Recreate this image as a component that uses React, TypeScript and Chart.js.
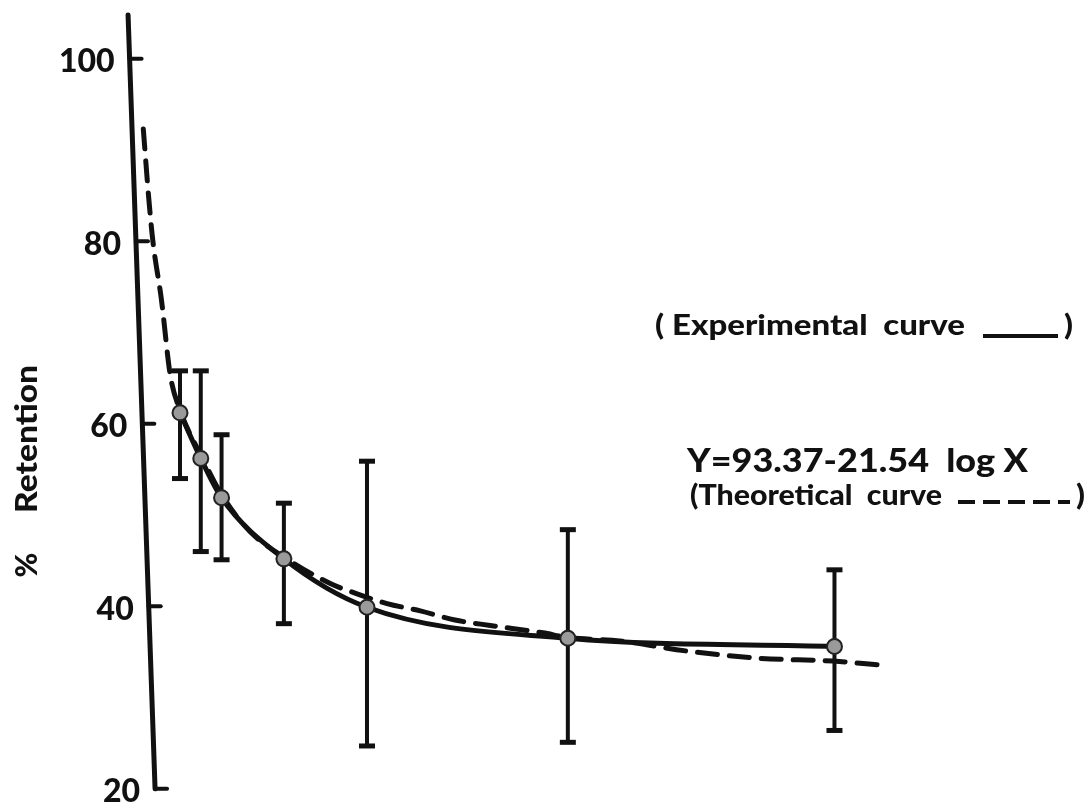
import React, { useEffect, useRef } from "react";
import { Chart, registerables } from "chart.js";

Chart.register(...registerables);

// ---- data ----
const timeMin = [30, 60, 90, 180, 300, 590, 975];
const retention = [61.2, 56.2, 51.9, 45.2, 39.9, 36.5, 35.6];
const errLow = [54.0, 46.0, 45.1, 38.1, 24.7, 25.1, 26.4];
const errHigh = [65.8, 65.8, 58.8, 51.3, 55.9, 48.4, 44.0];

const theoX = [-23, -15, -9, 3, 16, 30, 62, 92, 131, 182, 247, 277, 329, 377, 427, 478, 554, 589, 665, 762, 868, 973, 1051];
const theoY = [92.3, 84.6, 79.9, 73.7, 65.3, 61.5, 56.3, 52.0, 48.2, 45.3, 42.5, 41.6, 40.3, 39.5, 38.5, 37.9, 37.1, 36.6, 36.2, 35.1, 34.3, 34.0, 33.5];

const yTicks = [100, 80, 60, 40, 20];
const yTitleMain = "Retention";
const yTitlePct = "%";
const legendExp = "( Experimental  curve";
const equation = "Y=93.37-21.54  log X";
const legendTheo = "(Theoretical  curve";

const INK = "#111111";
const FONT = "Lato";
const WEIGHT = "900";

// axis line drawn slanted like the scanned original
const axisTopVal = 104.8;
const axisBottomVal = 20;
const axisTopX = -45;
const axisBottomX = -6;

function fitText(ctx: CanvasRenderingContext2D, text: string, x: number, y: number, width: number, size: number) {
  ctx.save();
  ctx.font = `${WEIGHT} ${size}px ${FONT}`;
  ctx.textAlign = "left";
  ctx.textBaseline = "alphabetic";
  const w = ctx.measureText(text).width;
  ctx.translate(x, y);
  ctx.scale(width / w, 1);
  ctx.fillText(text, 0, 0);
  ctx.restore();
}

const decorPlugin = {
  id: "decor",
  afterDatasetsDraw(chart: any) {
    const ctx: CanvasRenderingContext2D = chart.ctx;
    const xs = chart.scales.x;
    const ys = chart.scales.y;
    const yT = ys.getPixelForValue(axisTopVal);
    const yB = ys.getPixelForValue(axisBottomVal);
    const xT = xs.getPixelForValue(axisTopX);
    const xB = xs.getPixelForValue(axisBottomX);
    const axisXAt = (py: number) => xT + ((py - yT) / (yB - yT)) * (xB - xT);

    ctx.save();
    ctx.strokeStyle = INK;
    ctx.fillStyle = INK;
    ctx.lineCap = "round";
    ctx.lineWidth = 5;
    ctx.beginPath();
    ctx.moveTo(xT, yT);
    ctx.lineTo(xB, yB);
    ctx.stroke();

    ctx.lineWidth = 4;
    ctx.font = `${WEIGHT} 32px ${FONT}`;
    ctx.textAlign = "right";
    ctx.textBaseline = "middle";
    yTicks.forEach((v) => {
      const py = ys.getPixelForValue(v);
      const ax = axisXAt(py);
      ctx.beginPath();
      ctx.moveTo(ax, py);
      ctx.lineTo(ax + 12, py);
      ctx.stroke();
      ctx.fillText(String(v), ax - 15, py + 3);
    });

    // axis title (rotated)
    ctx.save();
    ctx.translate(27, 439);
    ctx.rotate(-Math.PI / 2);
    ctx.font = `${WEIGHT} 30px ${FONT}`;
    ctx.textBaseline = "middle";
    ctx.textAlign = "left";
    const tw = ctx.measureText(yTitleMain).width;
    ctx.save();
    ctx.scale(148 / tw, 1);
    ctx.fillText(yTitleMain, -tw / 2, 0);
    ctx.restore();
    ctx.textAlign = "center";
    ctx.fillText(yTitlePct, -126, 0);
    ctx.restore();

    // annotations
    fitText(ctx, legendExp, 655, 335, 310, 29);
    ctx.lineWidth = 4;
    ctx.lineCap = "butt";
    ctx.beginPath();
    ctx.moveTo(983, 336);
    ctx.lineTo(1058, 336);
    ctx.stroke();
    fitText(ctx, ")", 1064, 335, 9, 29);

    fitText(ctx, equation, 687, 472, 341, 32);

    fitText(ctx, legendTheo, 690, 505, 252, 29);
    ctx.setLineDash([17, 8]);
    ctx.beginPath();
    ctx.moveTo(958, 502);
    ctx.lineTo(1070, 502);
    ctx.stroke();
    ctx.setLineDash([]);
    fitText(ctx, ")", 1076, 505, 9, 29);
    ctx.restore();
  },
};

export default function App() {
  const ref = useRef<HTMLCanvasElement | null>(null);

  useEffect(() => {
    if (!ref.current) return;
    const errorBarSets = timeMin.map((t, i) => ({
      type: "line" as const,
      data: [
        { x: t, y: errLow[i] },
        { x: t, y: errHigh[i] },
      ],
      borderColor: INK,
      borderWidth: 4,
      pointStyle: "line" as const,
      pointRadius: 8,
      pointBorderWidth: 5,
      pointBorderColor: INK,
      pointBackgroundColor: INK,
      order: 3,
      clip: false as const,
    }));

    const chart = new Chart(ref.current, {
      type: "line",
      data: {
        datasets: [
          {
            label: "Theoretical curve",
            data: theoX.map((x, i) => ({ x, y: theoY[i] })),
            borderColor: INK,
            borderWidth: 5,
            borderDash: [20, 12],
            borderCapStyle: "round",
            pointRadius: 0,
            tension: 0.4,
            cubicInterpolationMode: "monotone",
            order: 2,
            clip: false,
          },
          {
            label: "Experimental curve",
            data: timeMin.map((x, i) => ({ x, y: retention[i] })),
            borderColor: INK,
            borderWidth: 5,
            pointRadius: 7.5,
            pointBackgroundColor: "#9a9a9a",
            pointBorderColor: "#222",
            pointBorderWidth: 2,
            tension: 0.4,
            cubicInterpolationMode: "monotone",
            order: 1,
            clip: false,
          },
          ...errorBarSets,
        ] as any,
      },
      options: {
        animation: false,
        responsive: false,
        devicePixelRatio: 1,
        layout: { padding: { left: 124.6, right: 98.7, top: 13.06, bottom: 7.8 } },
        plugins: { legend: { display: false }, tooltip: { enabled: false } },
        scales: {
          x: { type: "linear", min: -50, max: 1200, display: false },
          y: { type: "linear", min: 19, max: 105, display: false },
        },
      },
      plugins: [decorPlugin],
    });
    return () => chart.destroy();
  }, []);

  return (
    <div style={{ position: "fixed", left: 0, top: 0, width: 1089, height: 811, background: "#fff" }}>
      <canvas ref={ref} width={1089} height={811} />
    </div>
  );
}
